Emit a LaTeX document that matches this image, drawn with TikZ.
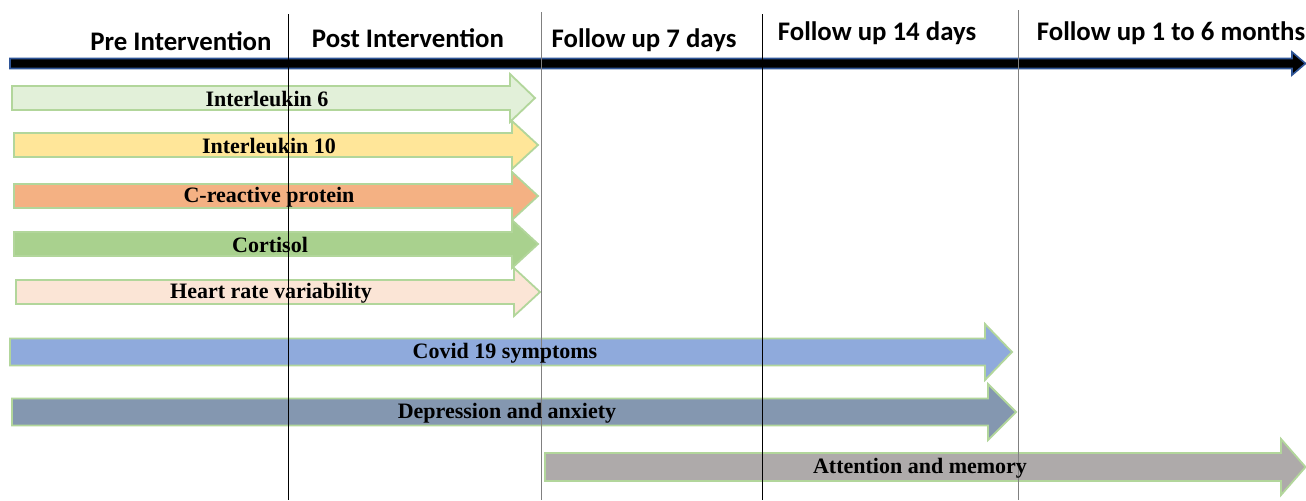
\documentclass[tikz,border=0pt]{standalone}
\usepackage{fontspec}
\setmainfont{Liberation Serif}
\newfontfamily\hdrfont{Carlito}
\definecolor{outl}{RGB}{178,214,155}
\definecolor{cIlsix}{RGB}{226,240,217}
\definecolor{cIlten}{RGB}{255,230,153}
\definecolor{cCrp}{RGB}{244,177,131}
\definecolor{cCort}{RGB}{169,209,142}
\definecolor{cHrv}{RGB}{251,229,214}
\definecolor{cCovid}{RGB}{143,170,220}
\definecolor{cDep}{RGB}{132,151,176}
\definecolor{cAtt}{RGB}{174,170,170}
\definecolor{tlblue}{RGB}{47,85,151}
\definecolor{midgray}{RGB}{128,128,128}
\newcommand{\blockarr}[7]{%
  \draw[arrowline, fill=#7] (#1,{#4-#5}) -- (#2,{#4-#5}) -- (#2,{#4-#6}) -- (#3,#4)
    -- (#2,{#4+#6}) -- (#2,{#4+#5}) -- (#1,{#4+#5}) -- cycle;}
\tikzset{
  arrowline/.style={draw=outl, line width=0.9pt, line join=miter},
  lbl/.style={font=\fontsize{11}{13}\selectfont\bfseries, inner sep=0pt, text=black},
  hdr/.style={font=\hdrfont\fontsize{13.4}{16}\selectfont\bfseries, inner sep=0pt, text=black},
  vline/.style={line width=0.45pt},
}
\begin{document}
\begin{tikzpicture}[x=0.5pt,y=-0.5pt]
\useasboundingbox[fill=white] (0,0) rectangle (1306,500);

% timeline arrow
\draw[draw=tlblue, fill=black, line width=0.8pt, line join=miter]
  (10,58.5) -- (1292,58.5) -- (1292,52) -- (1305.5,63.5) -- (1292,75) -- (1292,68.5) -- (10,68.5) -- cycle;

% block arrows
\blockarr{12}{510}{535}{98}{12}{24}{cIlsix}
\blockarr{14}{512}{538}{145}{12}{24}{cIlten}
\blockarr{14}{512}{538}{196}{12}{24}{cCrp}
\blockarr{14}{512}{538}{244}{12}{24}{cCort}
\blockarr{16}{514}{540}{292}{12}{24}{cHrv}
\blockarr{10}{985}{1012}{352}{13.5}{28}{cCovid}
\blockarr{12}{988}{1016}{412}{13.5}{28}{cDep}
\blockarr{545}{1281}{1305.5}{467}{14}{28}{cAtt}

% vertical separators
\coordinate (s1t) at (288,14);  \coordinate (s1b) at (288,500);
\coordinate (s2t) at (541,12);  \coordinate (s2b) at (541,500);
\coordinate (s3t) at (762,14);  \coordinate (s3b) at (762,500);
\coordinate (s4t) at (1018,10); \coordinate (s4b) at (1018,500);
\draw[vline, black] (s1t) -- (s1b);
\draw[vline, midgray] (s2t) -- (s2b);
\draw[vline, black] (s3t) -- (s3b);
\draw[vline, midgray] (s4t) -- (s4b);

% headers
\node[hdr] (pre)  at (181,41) {Pre Intervention};
\node[hdr] (post) at (408,38) {Post Intervention};
\node[hdr] (f7)   at (644,40) {Follow up 7 days};
\node[hdr] (f14)  at (877,33) {Follow up 14 days};
\node[hdr] (f16)  at (1171,33) {Follow up 1 to 6 months};

% labels
\node[lbl] (il6)  at (267,99)  {Interleukin 6};
\node[lbl] (il10) at (269,146) {Interleukin 10};
\node[lbl] (crp)  at (269,197) {C-reactive protein};
\node[lbl] (cort) at (270,245) {Cortisol};
\node[lbl] (hrv)  at (271,293) {Heart rate variability};
\node[lbl] (cov)  at (505,353) {Covid 19 symptoms};
\node[lbl] (dep)  at (507,413) {Depression and anxiety};
\node[lbl] (att)  at (920,468) {Attention and memory};
\end{tikzpicture}
\end{document}
